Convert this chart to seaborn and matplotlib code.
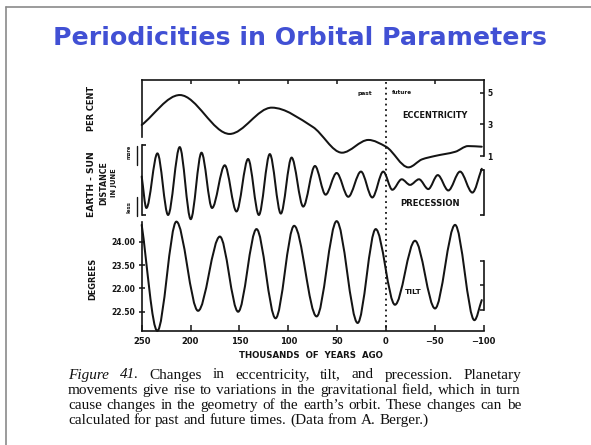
import numpy as np
import matplotlib
matplotlib.use("Agg")
import matplotlib.pyplot as plt
import matplotlib.transforms as mtrans
from matplotlib.path import Path
from matplotlib.patches import PathPatch
from matplotlib.lines import Line2D
import seaborn as sns

# ---------------------------------------------------------------- data
# time axis: thousands of years ago (negative = future)
x_ticks = [250, 200, 150, 100, 50, 0, -50, -100]
x_tick_labels = ["250", "200", "150", "100", "50", "0", "\u221250", "\u2212100"]

# eccentricity (per cent) turning points / shape points
ecc_kyr = [250, 211, 160, 117, 75, 45, 18, 0, -23, -37, -50, -71, -84, -98]
ecc_pct = [2.97, 4.87, 2.40, 4.07, 2.85, 1.21, 2.02, 1.59, 0.28, 0.79, 1.00, 1.27, 1.63, 1.59]
ecc_ticks = [5, 3, 1]
ecc_tick_labels = ["5", "3", "1"]

# precession index (Earth-Sun distance in June), successive extremes
prec_kyr = [250, 245.2, 233.9, 223.0, 211.1, 199.8, 188.8, 178.0, 165.0, 153.0,
            141.1, 130.1, 118.9, 107.6, 96.6, 84.7, 72.7, 61.8, 50.5, 38.6,
            25.6, 14.0, 2.8, -6.5, -16.1, -24.6, -33.8, -43.3, -53.0, -63.8,
            -75.8, -88.4, -98.0]
prec_val = [0.005, -0.040, 0.038, -0.050, 0.047, -0.056, 0.039, -0.040, 0.021, -0.045,
            0.030, -0.050, 0.037, -0.048, 0.032, -0.038, 0.020, -0.021, 0.010, -0.024,
            0.012, -0.025, 0.012, -0.014, 0.001, -0.007, 0.001, -0.013, 0.007, -0.015,
            0.012, -0.018, 0.016]

# obliquity (degrees), successive extremes
tilt_kyr = [250, 234, 214.5, 192.3, 170, 151.3, 132.5, 113, 94, 71, 50.5, 29, 10.5,
            -9.2, -29.7, -50.2, -70.7, -90.5, -98]
tilt_deg = [24.36, 22.09, 24.43, 22.52, 24.11, 22.50, 24.27, 22.36, 24.34, 22.40,
            24.44, 22.26, 24.27, 22.65, 24.02, 22.57, 24.36, 22.32, 22.75]
tilt_ticks = [24.0, 23.5, 23.0, 22.5]
tilt_tick_labels = ["24.00", "23.50", "22.00", "22.50"]

caption_lines = [
    "Figure 41.  Changes in eccentricity, tilt, and precession. Planetary",
    "movements give rise to variations in the gravitational field, which in turn",
    "cause changes in the geometry of the earth\u2019s orbit. These changes can be",
    "calculated for past and future times. (Data from A. Berger.)",
]

# ---------------------------------------------------------------- style
sns.set_theme(style="white")
plt.rcParams["font.family"] = ["DejaVu Sans"]
INK = "#141414"

W, H = 591, 445
fig = plt.figure(figsize=(W / 100, H / 100), dpi=100)
fig.patch.set_facecolor("white")
renderer = fig.canvas.get_renderer()


def rect(l, t, r, b):
    return [l / W, 1 - b / H, (r - l) / W, (b - t) / H]


def ftext(x, y, s, **kw):
    return fig.text(x / W, 1 - y / H, s, **kw)


def fit(t, width):
    rot = t.get_rotation()
    t.set_rotation(0)
    w = t.get_window_extent(renderer).width
    t.set_fontsize(t.get_fontsize() * width / w)
    t.set_rotation(rot)
    return t


def smooth_path(xs, ys):
    """Monotone cubic (Bezier) path through the given points."""
    x = np.asarray(xs, float)
    y = np.asarray(ys, float)
    o = np.argsort(x)
    x, y = x[o], y[o]
    h = np.diff(x)
    d = np.diff(y) / h
    n = len(x)
    m = np.zeros(n)
    m[0], m[-1] = d[0], d[-1]
    for i in range(1, n - 1):
        if d[i - 1] * d[i] > 0:
            w1 = 2 * h[i] + h[i - 1]
            w2 = h[i] + 2 * h[i - 1]
            m[i] = (w1 + w2) / (w1 / d[i - 1] + w2 / d[i])
    verts = [(x[0], y[0])]
    codes = [Path.MOVETO]
    for i in range(n - 1):
        verts += [(x[i] + h[i] / 3, y[i] + m[i] * h[i] / 3),
                  (x[i + 1] - h[i] / 3, y[i + 1] - m[i + 1] * h[i] / 3),
                  (x[i + 1], y[i + 1])]
        codes += [Path.CURVE4] * 3
    return Path(verts, codes)


def draw_curve(ax, xs, ys):
    ax.add_patch(PathPatch(smooth_path(xs, ys), fill=False, ec=INK, lw=1.45,
                           joinstyle="round", capstyle="round", clip_on=False))


def base_axes(r, ylim):
    ax = fig.add_axes(r)
    ax.set_facecolor("none")
    ax.set_xlim(250, -100)
    ax.set_ylim(*ylim)
    for s in ax.spines.values():
        s.set_visible(False)
        s.set_linewidth(1.2)
        s.set_color(INK)
    ax.set_xticks([])
    ax.set_yticks([])
    return ax


L, R = 141.7, 483.7

# ---------------------------------------------------------------- eccentricity
ax_e = base_axes(rect(L, 80, R, 175), (-0.206, 5.825))
ax_e.spines["top"].set_visible(True)
ax_e.spines["left"].set_visible(True)
ax_e.spines["left"].set_bounds(2.2, 5.825)
ax_e.spines["right"].set_visible(True)
ax_e.spines["right"].set_bounds(1.0, 5.825)
ax_e.xaxis.set_ticks_position("top")
ax_e.set_xticks([200, 150, 100, 50, -50])
ax_e.tick_params(axis="x", direction="in", length=3, width=1.1, color=INK,
                 labeltop=False, labelbottom=False, top=True, bottom=False)
ax_e.yaxis.set_ticks_position("right")
ax_e.set_yticks(ecc_ticks)
ax_e.set_yticklabels(ecc_tick_labels, fontsize=5.5, fontweight="bold", color=INK)
ax_e.tick_params(axis="y", direction="in", length=3, width=1.1, color=INK, pad=2.5,
                 right=True, left=False, labelright=True, labelleft=False)
draw_curve(ax_e, ecc_kyr, ecc_pct)

# ---------------------------------------------------------------- precession
ax_p = base_axes(rect(L, 140, R, 225), (-0.0643, 0.0571))
ax_p.spines["left"].set_visible(True)
ax_p.spines["left"].set_bounds(-0.05, 0.05)
ax_p.spines["right"].set_visible(True)
ax_p.spines["right"].set_bounds(-0.05, 0.0143)
ax_p.set_yticks([])
for xv, yv, dx in [(250, 0.05, -4), (250, -0.05, -4), (-100, 0.0143, 4), (-100, -0.05, 4)]:
    ax_p.plot([xv, xv + dx], [yv, yv], color=INK, lw=1.2, clip_on=False,
              solid_capstyle="butt")
draw_curve(ax_p, prec_kyr, prec_val)

# ---------------------------------------------------------------- tilt
ax_t = base_axes(rect(L, 216, R, 331), (22.088, 24.55))
ax_t.spines["left"].set_visible(True)
ax_t.spines["left"].set_bounds(22.088, 24.42)
ax_t.spines["bottom"].set_visible(True)
ax_t.spines["right"].set_visible(True)
ax_t.spines["right"].set_bounds(22.537, 23.587)
ax_t.set_xticks(x_ticks)
ax_t.set_xticklabels(x_tick_labels, fontsize=6, fontweight="bold", color=INK)
ax_t.tick_params(axis="x", direction="in", length=4, width=1.1, color=INK, pad=4,
                 bottom=True, top=False)
ax_t.set_yticks(tilt_ticks)
ax_t.set_yticklabels(tilt_tick_labels, fontsize=5.5, fontweight="bold", color=INK)
ax_t.tick_params(axis="y", direction="inout", length=4, width=1.1, color=INK, pad=3,
                 left=True, right=False)
for yv in [23.587, 23.07, 22.537]:
    ax_t.plot([-100, -96], [yv, yv], color=INK, lw=1.1, clip_on=False,
              solid_capstyle="butt")
draw_curve(ax_t, tilt_kyr, tilt_deg)

# past | future divider
tr = mtrans.blended_transform_factory(ax_t.transData, fig.transFigure)
fig.add_artist(Line2D([0, 0], [1 - 82 / H, 1 - 331 / H], transform=tr, color=INK,
                      lw=1.3, linestyle=(0, (1, 2))))

# ---------------------------------------------------------------- labels
small = dict(fontweight="bold", color=INK, va="center")
fit(ftext(372, 93, "past", ha="right", fontsize=5, **small), 15)
fit(ftext(392, 93, "future", ha="left", fontsize=5, **small), 20)
fit(ftext(435, 115, "ECCENTRICITY", ha="center", fontsize=5, **small), 66)
fit(ftext(430, 204, "PRECESSION", ha="center", fontsize=5, **small), 60)
fit(ftext(413.5, 292, "TILT", ha="center", fontsize=5, **small), 17)

fit(ftext(91, 108, "PER CENT", ha="center", rotation=90, fontsize=5, **small), 46)
fit(ftext(92, 184, "EARTH - SUN", ha="center", rotation=90, fontsize=5, **small), 66)
fit(ftext(103.5, 183, "DISTANCE", ha="center", rotation=90, fontsize=5, **small), 44)
fit(ftext(114, 183, "IN JUNE", ha="center", rotation=90, fontsize=5, **small), 29)
fit(ftext(93, 279, "DEGREES", ha="center", rotation=90, fontsize=5, **small), 42)
fit(ftext(129, 152, "more", ha="center", rotation=90, fontsize=4, **small), 14)
fit(ftext(129, 207, "less", ha="center", rotation=90, fontsize=4, **small), 12)
for y0, y1 in [(146, 165), (197, 216)]:
    fig.add_artist(Line2D([136.5 / W] * 2, [1 - y0 / H, 1 - y1 / H], color=INK, lw=1.0))

fit(ftext(311, 356, "THOUSANDS  OF  YEARS  AGO", ha="center", fontsize=6, **small), 145)

# title
title = ftext(300, 38, "Periodicities in Orbital Parameters", ha="center", va="center",
              fontsize=18, fontweight="bold", color="#4150d4")
fit(title, 496)

# caption: size set by the widest line, lines 1-3 justified, last line ragged
cap_x0, cap_x1 = 68, 521
cap_y = [375, 390.5, 405.5, 420.5]
probe = ftext(cap_x0, 0, caption_lines[1], fontsize=10, family="Liberation Serif")
fit(probe, 446)
cap_size = probe.get_fontsize()
probe.remove()
space = cap_size * 100 / 72 * 0.25

for k, (line, yy) in enumerate(zip(caption_lines, cap_y)):
    words = line.split()
    texts = []
    for j, w in enumerate(words):
        style = "italic" if (k == 0 and j < 2) else "normal"
        texts.append(ftext(0, yy, w, ha="left", va="center", fontsize=cap_size,
                           family="Liberation Serif", style=style, color="#111111"))
    widths = [t.get_window_extent(renderer).width for t in texts]
    if k < len(caption_lines) - 1:
        gap = (cap_x1 - cap_x0 - sum(widths)) / (len(texts) - 1)
    else:
        gap = space
    x = cap_x0
    for t, wd in zip(texts, widths):
        t.set_x(x / W)
        x += wd + gap

# slide frame
fig.add_artist(Line2D([6 / W, 1], [1 - 7 / H, 1 - 7 / H], color="#8a8a8a", lw=1.2))
fig.add_artist(Line2D([6 / W, 6 / W], [1 - 7 / H, 0], color="#8a8a8a", lw=1.2))

fig.savefig("out.png", dpi=100, facecolor="white")
